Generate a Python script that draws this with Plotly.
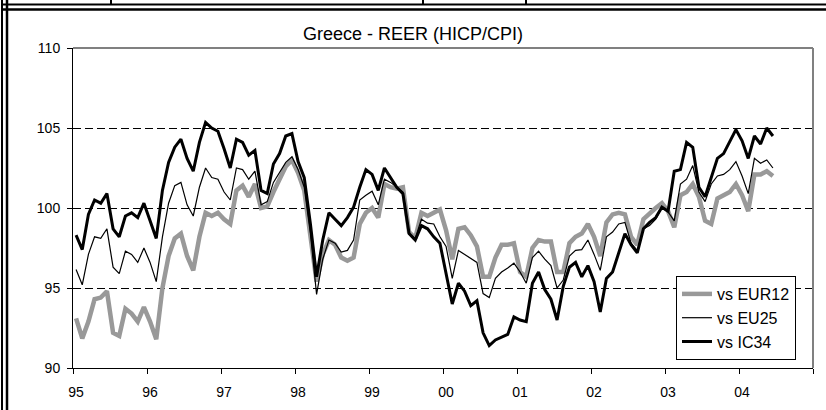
import plotly.graph_objects as go

# 月度資料：1995-01 起，共 114 個月
years = ["95", "96", "97", "98", "99", "00", "01", "02", "03", "04"]

eur12 = [
    93.1, 91.85, 92.9, 94.3, 94.4, 94.8, 92.2, 92.0, 93.7, 93.4, 92.9, 93.8,
    92.9, 91.8, 95.0, 97.0, 98.1, 98.4, 97.0, 96.1, 98.2, 99.7, 99.5, 99.7,
    99.3, 99.0, 101.1, 101.4, 100.7, 101.5, 100.0, 100.1, 101.0, 101.8, 102.6, 103.0,
    102.2, 101.1, 98.2, 95.4, 97.1, 98.0, 97.7, 96.9, 96.7, 96.9, 99.0, 99.7,
    100.0, 99.4, 101.5, 101.3, 101.2, 101.3, 98.5, 98.1, 99.7, 99.5, 99.7, 99.9,
    98.6, 96.8, 98.7, 98.8, 98.3, 97.6, 95.7, 95.7, 96.9, 97.7, 97.7, 97.8,
    96.0, 95.7, 97.5, 98.0, 97.9, 97.9, 96.0, 96.0, 97.8, 98.2, 98.4, 99.0,
    98.2, 97.0, 99.1, 99.6, 99.7, 99.6, 98.2, 97.7, 99.3, 99.7, 100.0, 100.3,
    99.8, 98.8, 100.8, 101.0, 101.5, 100.7, 99.2, 99.0, 100.6, 100.8, 101.0, 101.5,
    100.8, 99.8, 102.1, 102.1, 102.3, 102.0,
]

eu25 = [
    96.15, 95.2, 97.1, 98.2, 98.1, 98.7, 96.3, 95.9, 97.3, 97.1, 96.6, 97.5,
    96.6, 95.4, 98.2, 100.3, 101.4, 101.6, 100.2, 99.5, 101.3, 102.5, 101.9, 101.8,
    101.0, 100.5, 102.5, 102.4, 101.8, 102.3, 100.2, 100.4, 101.6, 102.2, 102.85, 103.2,
    102.4, 101.3, 98.4, 94.6, 96.8, 98.0, 97.8, 97.25, 97.35, 98.0, 100.5, 100.8,
    101.05, 100.2, 101.8, 101.6, 101.3, 101.0, 98.4, 98.1, 99.3, 99.05, 99.0, 98.2,
    97.6, 95.6, 97.35, 97.1, 96.9, 96.6, 94.65, 94.4, 95.6, 96.0, 96.25, 96.55,
    96.0, 95.3, 96.9, 97.3, 96.8, 96.4, 95.0, 95.5, 97.0, 97.35, 97.4, 98.0,
    97.1, 96.1, 98.2, 98.5, 99.0, 99.1, 97.8, 97.35, 98.7, 98.9, 99.3, 100.05,
    99.75, 99.2, 101.5, 101.8, 102.65, 101.0, 100.4, 101.5, 102.0, 102.1, 102.4, 102.9,
    102.0, 100.9, 103.1, 102.8, 103.0, 102.5,
]

ic34 = [
    98.3, 97.4, 99.6, 100.5, 100.3, 100.9, 98.7, 98.2, 99.5, 99.7, 99.4, 100.3,
    99.2, 98.1, 101.1, 102.85, 103.8, 104.3, 103.1, 102.3, 104.1, 105.35, 105.0, 104.8,
    103.7, 102.5, 104.3, 104.1, 103.3, 103.6, 101.1, 100.9, 102.75, 103.4, 104.5, 104.65,
    102.9, 101.9, 99.0, 95.7, 98.0, 99.7, 99.3, 98.9, 99.4, 100.05, 101.3, 102.4,
    102.1, 101.1, 102.5, 101.9, 101.3, 100.9, 98.4, 98.0, 98.9, 98.7, 98.2, 97.8,
    95.9, 94.0, 95.3, 94.8, 93.9, 94.2, 92.2, 91.4, 91.75, 91.9, 92.1, 93.2,
    93.0, 92.9, 95.3, 96.0, 94.9, 94.3, 93.0, 95.1, 96.3, 96.6, 95.7, 96.4,
    95.4, 93.5, 95.6, 96.0, 97.2, 98.4, 97.7, 97.2, 98.7, 99.1, 99.4, 100.05,
    99.8, 102.3, 102.4, 104.1, 103.8, 101.3, 100.7, 101.9, 103.1, 103.4, 104.2, 104.9,
    104.2, 103.1, 104.5, 104.0, 105.0, 104.5,
]

series = [
    ("vs EUR12", eur12, "#999999", 4.5),
    ("vs EU25", eu25, "black", 1.2),
    ("vs IC34", ic34, "black", 3),
]

# 版面像素
W, H = 826, 410
L, R, T, B = 73, 13, 48, 42
PW, PH = W - L - R, H - T - B


def px(x):
    return (x - L) / PW


def py(y):
    return (H - B - y) / PH


fig = go.Figure()
for i, (name, vals, color, width) in enumerate(series):
    fig.add_trace(
        go.Scatter(
            x=list(range(len(vals))),
            y=vals,
            mode="lines",
            name=name,
            legendgroup=str(i),
            line=dict(color=color, width=width),
        )
    )

# 外框（表格線）
frame = []
for x0, w in [(2, 2), (7, 2.5)]:
    frame.append(dict(type="line", xref="paper", yref="paper",
                      x0=px(x0), x1=px(x0), y0=py(0), y1=py(H),
                      line=dict(color="black", width=w)))
for y0, w in [(4.5, 2), (9.5, 2.5)]:
    frame.append(dict(type="line", xref="paper", yref="paper",
                      x0=px(2), x1=px(W), y0=py(y0), y1=py(y0),
                      line=dict(color="black", width=w)))
for x0 in [111, 423, 526]:
    frame.append(dict(type="line", xref="paper", yref="paper",
                      x0=px(x0), x1=px(x0), y0=py(0), y1=py(4.5),
                      line=dict(color="black", width=2)))
# 繪圖區上、右邊框（灰）
frame.append(dict(type="line", xref="paper", yref="paper", x0=0, x1=1, y0=1, y1=1,
                  line=dict(color="#808080", width=2)))
frame.append(dict(type="line", xref="paper", yref="paper", x0=1, x1=1, y0=0, y1=1,
                  line=dict(color="#808080", width=2)))

fig.update_layout(
    width=W,
    height=H,
    margin=dict(l=L, r=R, t=T, b=B, autoexpand=False),
    paper_bgcolor="white",
    plot_bgcolor="white",
    font=dict(family="Liberation Sans, Arial, sans-serif", color="black", size=14),
    title=dict(
        text="Greece - REER (HICP/CPI)",
        x=413 / W,
        xanchor="center",
        y=1 - 34 / H,
        yanchor="middle",
        font=dict(size=18),
    ),
    showlegend=True,
    legend=dict(
        x=px(676),
        y=py(276),
        xanchor="left",
        yanchor="top",
        bgcolor="white",
        bordercolor="black",
        borderwidth=1,
        font=dict(size=16),
        tracegroupgap=0,
    ),
    shapes=frame,
)

# 刻度在年份之間，標籤置於每年第一個月
fig.update_xaxes(
    range=[-0.5, 119.5],
    tickmode="array",
    tickvals=[12 * k - 0.5 for k in range(len(years) + 1)],
    ticktext=years + [""],
    ticklabelshift=3,
    ticks="outside",
    ticklen=5,
    tickcolor="black",
    ticklabelstandoff=6,
    showline=True,
    linecolor="black",
    linewidth=1,
    showgrid=False,
    zeroline=False,
)

fig.update_yaxes(
    range=[90, 110],
    tickvals=[90, 95, 100, 105, 110],
    ticks="outside",
    ticklen=5,
    tickcolor="black",
    ticklabelstandoff=4,
    showline=True,
    linecolor="black",
    linewidth=1,
    showgrid=True,
    gridcolor="black",
    gridwidth=1,
    griddash="8px,4px",
    zeroline=False,
)

fig.write_html(
    "out.html",
    config={"displayModeBar": False},
    post_script="document.body.style.margin='0';",
)
